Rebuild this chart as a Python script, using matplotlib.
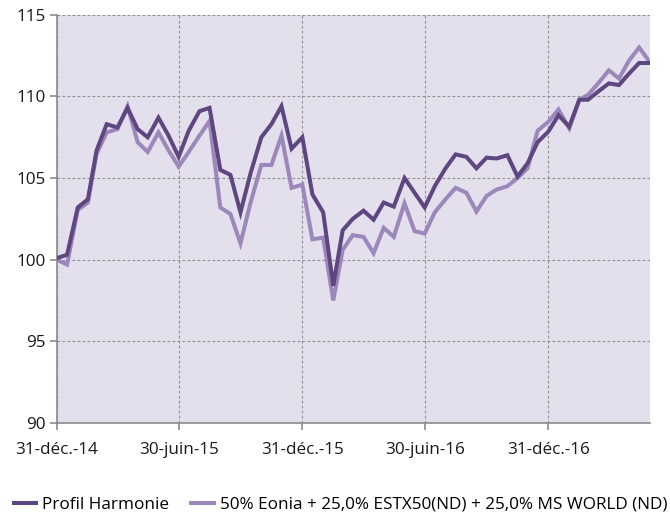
import numpy as np
import pandas as pd
import matplotlib
matplotlib.use("Agg")
import matplotlib.pyplot as plt

# semi-monthly valuation dates, 31/12/2014 -> 31/05/2017
dates = pd.date_range("2014-12-31", "2017-05-31", freq="SME")

harmonie = [100.1, 100.3, 103.2, 103.7, 106.7, 108.3, 108.1, 109.3, 108.0, 107.5, 108.7, 107.6, 106.3,
            107.9, 109.1, 109.3, 105.5, 105.2, 102.9, 105.3, 107.5, 108.3, 109.4, 106.8, 107.5,
            104.0, 102.9, 98.4, 101.8, 102.5, 103.0, 102.45, 103.5, 103.25, 105.0, 104.1, 103.2,
            104.5, 105.6, 106.45, 106.3, 105.6, 106.25, 106.2, 106.4, 105.1, 105.9, 107.2, 107.85,
            108.85, 108.15, 109.8, 109.8, 110.3, 110.8, 110.7, 111.4, 112.05, 112.05]
benchmark = [100.0, 99.7, 103.05, 103.5, 106.5, 107.8, 108.0, 109.4, 107.2, 106.6, 107.8, 106.7, 105.7,
             106.6, 107.6, 108.5, 103.2, 102.8, 101.0, 103.5, 105.8, 105.8, 107.6, 104.4, 104.6,
             101.25, 101.35, 97.5, 100.6, 101.5, 101.4, 100.4, 101.95, 101.4, 103.45, 101.75, 101.6,
             102.9, 103.7, 104.4, 104.1, 102.95, 103.9, 104.3, 104.5, 105.0, 105.6, 107.9, 108.45,
             109.2, 108.05, 109.8, 110.1, 110.8, 111.6, 111.1, 112.2, 113.0, 112.1]

labels = ["Profil Harmonie", "50% Eonia + 25,0% ESTX50(ND) + 25,0% MS WORLD (ND)"]
tick_dates = pd.to_datetime(["2014-12-31", "2015-06-30", "2015-12-31", "2016-06-30", "2016-12-31"])
tick_labels = ["31-déc.-14", "30-juin-15", "31-déc.-15", "30-juin-16", "31-déc.-16"]
y_ticks = [90, 95, 100, 105, 110, 115]

plt.rcParams["font.family"] = ["Open Sans", "DejaVu Sans"]
plt.rcParams["font.size"] = 12.3

fig = plt.figure(figsize=(6.7, 5.12), dpi=100)
ax = fig.add_axes([0.085, 0.174, 0.885, 0.797])
ax.set_facecolor("#e4dfed")

ax.plot(dates, harmonie, color="#5e4680", lw=2.9, label=labels[0], zorder=3,
        solid_joinstyle="miter")
ax.plot(dates, benchmark, color="#9c87bb", lw=2.9, label=labels[1], zorder=2,
        solid_joinstyle="miter")

ax.set_xlim(dates[0], dates[-1])
ax.set_ylim(90, 115)
ax.set_yticks(y_ticks)
ax.set_xticks(tick_dates)
ax.set_xticklabels(tick_labels)

ax.grid(True, color="#8f8f8f", lw=0.8, linestyle=(0, (2.5, 2)))
ax.set_axisbelow(True)
for side in ["top", "right"]:
    ax.spines[side].set_visible(False)
for side in ["left", "bottom"]:
    ax.spines[side].set_color("#8a8a8a")
    ax.spines[side].set_linewidth(1.2)
ax.tick_params(axis="both", direction="out", length=5, width=1.2, color="#8a8a8a",
               labelcolor="#1a1a1a", labelsize=12.3)
ax.tick_params(axis="y", pad=3)
ax.tick_params(axis="x", pad=9)

fig.legend(loc="center left", bbox_to_anchor=(0.021, 0.014), ncol=2, frameon=False,
           borderpad=0, borderaxespad=0, handlelength=1.3, handletextpad=0.35,
           columnspacing=1.3, fontsize=12.3)

fig.savefig("out.png", dpi=100)
